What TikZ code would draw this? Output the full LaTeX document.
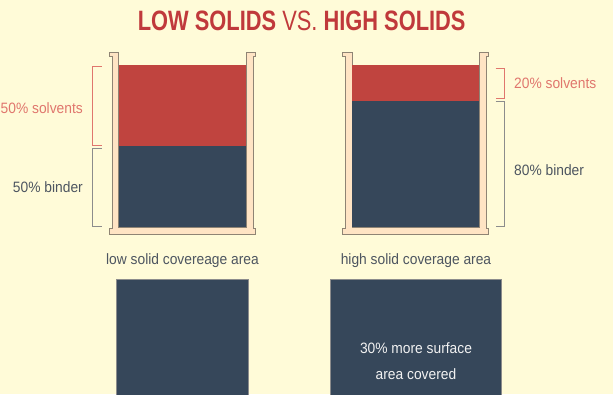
\documentclass[tikz,border=0pt]{standalone}
\usepackage{fontspec}
\setmainfont{Liberation Sans}[FakeStretch=0.92]
\newfontfamily\titlefont{Liberation Sans}[FakeStretch=0.78]
\usepackage{tikz}
\usetikzlibrary{calc,positioning}
\usepackage{xcolor}
\definecolor{bgyellow}{HTML}{FFFBD8}
\definecolor{solvred}{HTML}{C0443F}
\definecolor{titlered}{HTML}{C0393B}
\definecolor{binderblue}{HTML}{36475A}
\definecolor{wallpeach}{HTML}{FFE4C4}
\definecolor{walledge}{HTML}{8F8474}
\definecolor{lightred}{HTML}{E0766D}
\definecolor{labelgray}{HTML}{4D5560}
\definecolor{bracketgray}{HTML}{8C8C8C}

\begin{document}
\begin{tikzpicture}[x=1pt,y=-1pt,
  wall/.style={fill=wallpeach,draw=walledge,line width=0.8pt},
  lbl/.style={font=\fontsize{15}{18}\selectfont},
  redlbl/.style={lbl,text=lightred},
  graylbl/.style={lbl,text=labelgray},
  redbracket/.style={draw=lightred,line width=0.7pt},
  graybracket/.style={draw=bracketgray,line width=0.7pt}]
  \fill[bgyellow] (0,0) rectangle (613,394);
  \useasboundingbox (0,0) rectangle (613,394);
  % title
  \node[anchor=base,text=titlered,inner sep=0pt] (title) at (301.7,30)
    {\titlefont\fontsize{28}{30}\selectfont\textbf{LOW SOLIDS} VS. \textbf{HIGH SOLIDS}};
  % left beaker
  \draw[wall] (109.5,52)--(118.5,52)--(118.5,227)--(246,227)--(246,52)--(255.5,52)--(255.5,56)--(253,56)
    --(253,228)--(255.5,228)--(255.5,234)--(109.5,234)--(109.5,228)--(112,228)--(112,56)--(109.5,56)--cycle;
  \fill[solvred] (118.5,65) rectangle (246,146);
  \fill[binderblue] (118.5,146) rectangle (246,227);
  % right beaker
  \draw[wall] (342.8,52)--(352.3,52)--(352.3,227)--(479.3,227)--(479.3,52)--(488.8,52)--(488.8,56)--(486.3,56)
    --(486.3,228)--(488.8,228)--(488.8,234)--(342.8,234)--(342.8,228)--(345.3,228)--(345.3,56)--(342.8,56)--cycle;
  \fill[solvred] (352.3,65) rectangle (479.3,101);
  \fill[binderblue] (352.3,101) rectangle (479.3,227);
  % brackets
  \draw[redbracket] (101.7,66.7)--(92.3,66.7)--(92.3,145)--(101.7,145);
  \draw[graybracket] (101.7,148.5)--(92.3,148.5)--(92.3,226.7)--(101.7,226.7);
  \draw[redbracket] (495.7,68.3)--(504.3,68.3)--(504.3,98.3)--(495.7,98.3);
  \draw[graybracket] (495.7,101.7)--(504.3,101.7)--(504.3,226.7)--(495.7,226.7);
  % labels
  \node[redlbl,anchor=east,inner sep=0pt] (lowsolv) at (83,108) {50\% solvents};
  \node[graylbl,anchor=east,inner sep=0pt] (lowbind) at (83,186.7) {50\% binder};
  \node[redlbl,anchor=west,inner sep=0pt] (highsolv) at (514,83.3) {20\% solvents};
  \node[graylbl,anchor=west,inner sep=0pt] (highbind) at (514,170) {80\% binder};
  \node[graylbl,inner sep=0pt] (lowcap) at (182.5,260.7) {low solid covereage area};
  \node[graylbl,inner sep=0pt] (highcap) at (416,260.7) {high solid coverage area};
  % coverage areas
  \filldraw[fill=binderblue,draw=bracketgray,line width=0.5pt] (116.7,279.3) rectangle (248.3,395);
  \filldraw[fill=binderblue,draw=bracketgray,line width=0.5pt] (330.7,279.3) rectangle (501.7,395);
  \node[text=white!90!gray,align=center,font=\fontsize{15}{26}\selectfont,inner sep=0pt] (more) at (416,361)
    {30\% more surface\\area covered};
\end{tikzpicture}
\end{document}
